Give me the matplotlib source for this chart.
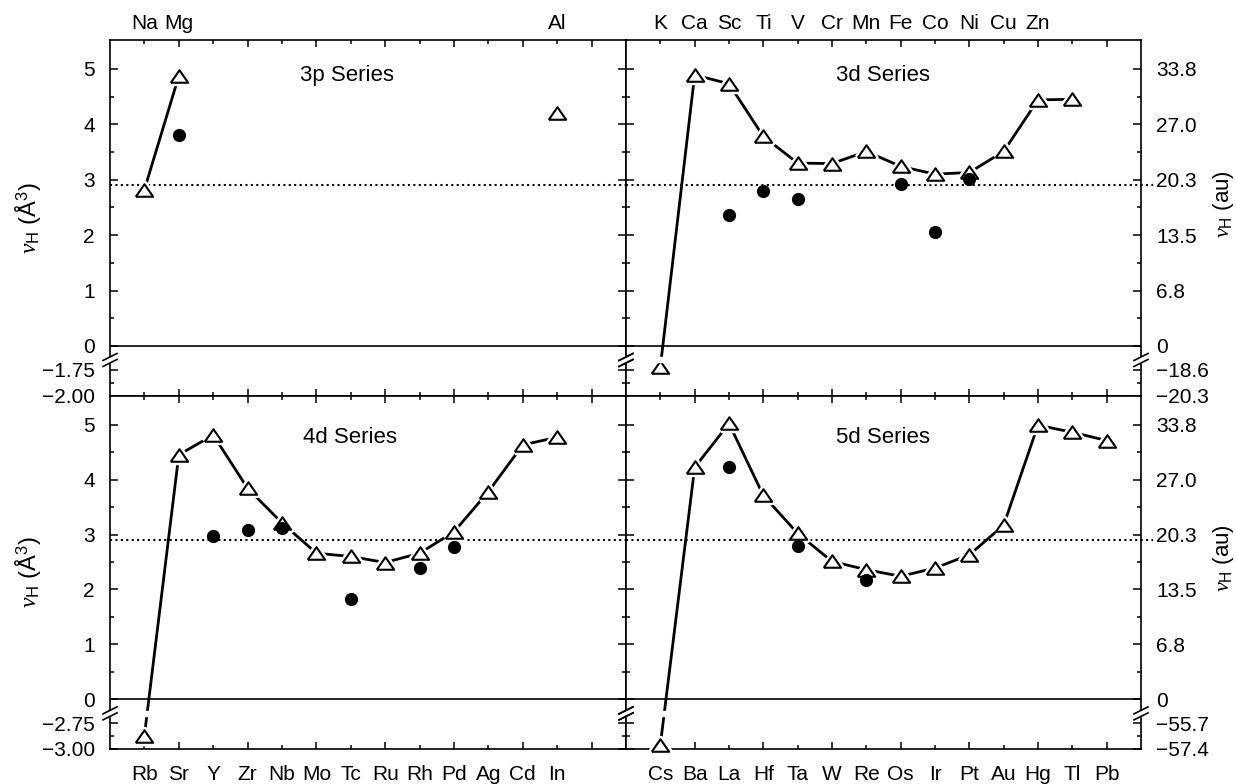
import matplotlib
matplotlib.use("Agg")
import matplotlib.pyplot as plt
from matplotlib.lines import Line2D

plt.rcParams['font.family'] = ['Liberation Sans', 'DejaVu Sans']
plt.rcParams['mathtext.fontset'] = 'custom'
plt.rcParams['mathtext.rm'] = 'Liberation Sans'
plt.rcParams['mathtext.it'] = 'Liberation Serif:italic'
plt.rcParams['mathtext.bf'] = 'Liberation Sans:bold'

# ---------------- data ----------------
p3_labels = ['Na', 'Mg', 'Al']
p3_label_pos = [1, 2, 13]
p3_tri_pos = [1, 2, 13]
p3_tri = [2.82, 4.87, 4.21]
p3_line_n = 2                      # Na-Mg connected, Al isolated
p3_circ_pos = [2]
p3_circ = [3.80]

d3_labels = ['K', 'Ca', 'Sc', 'Ti', 'V', 'Cr', 'Mn', 'Fe', 'Co', 'Ni', 'Cu', 'Zn']
d3_tri_pos = [1, 2, 3, 4, 5, 6, 7, 8, 9, 10, 11, 12, 13]
d3_tri = [-1.72, 4.89, 4.73, 3.78, 3.30, 3.29, 3.51, 3.24, 3.10, 3.13, 3.51, 4.44, 4.45]
d3_circ_pos = [3, 4, 5, 8, 9, 10]
d3_circ = [2.36, 2.80, 2.65, 2.92, 2.05, 3.01]

d4_labels = ['Rb', 'Sr', 'Y', 'Zr', 'Nb', 'Mo', 'Tc', 'Ru', 'Rh', 'Pd', 'Ag', 'Cd', 'In']
d4_tri_pos = [1, 2, 3, 4, 5, 6, 7, 8, 9, 10, 11, 12, 13]
d4_tri = [-2.87, 4.45, 4.81, 3.84, 3.21, 2.66, 2.60, 2.49, 2.66, 3.05, 3.78, 4.63, 4.77]
d4_circ_pos = [3, 4, 5, 7, 9, 10]
d4_circ = [2.98, 3.08, 3.11, 1.82, 2.39, 2.78]

d5_labels = ['Cs', 'Ba', 'La', 'Hf', 'Ta', 'W', 'Re', 'Os', 'Ir', 'Pt', 'Au', 'Hg', 'Tl', 'Pb']
d5_tri_pos = [1, 2, 3, 4, 5, 6, 7, 8, 9, 10, 11, 12, 13, 14]
d5_tri = [-2.96, 4.22, 5.02, 3.71, 3.02, 2.51, 2.36, 2.24, 2.39, 2.63, 3.17, 4.99, 4.86, 4.71]
d5_circ_pos = [3, 5, 7]
d5_circ = [4.22, 2.79, 2.17]

ref_level = 2.9

left_ticks_main = [5, 4, 3, 2, 1, 0]
left_labels_main = ['5', '4', '3', '2', '1', '0']
top_strip_ticks = [-1.75, -2.00]
top_strip_labels = ['\u22121.75', '\u22122.00']
bot_strip_ticks = [-2.75, -3.00]
bot_strip_labels = ['\u22122.75', '\u22123.00']
right_labels_main = ['33.8', '27.0', '20.3', '13.5', '6.8', '0']
top_right_strip_labels = ['\u221218.6', '\u221220.3']
bot_right_strip_labels = ['\u221255.7', '\u221257.4']

series_names = ['3p Series', '3d Series', '4d Series', '5d Series']

# ---------------- broken-axis scale ----------------
YTOP = 5.52
YMIN_V = -0.9025          # strip region below zero
STRIP_K = 1.877           # strip stretch factor


def to_v(v, strip_bottom):
    if v >= 0:
        return v
    return YMIN_V + (v - strip_bottom) * STRIP_K


W, H = 1236, 784
fig = plt.figure(figsize=(W / 100, H / 100), dpi=100)

ax_tl = fig.add_axes([110 / W, 1 - 396 / H, 516 / W, 356 / H])
ax_tr = fig.add_axes([626 / W, 1 - 396 / H, 515 / W, 356 / H])
ax_bl = fig.add_axes([110 / W, 1 - 749 / H, 516 / W, 353 / H])
ax_br = fig.add_axes([626 / W, 1 - 749 / H, 515 / W, 353 / H])

tri_verts = [(-1, -0.72), (1, -0.72), (0, 0.72), (-1, -0.72)]

FS = 15
FS_SERIES = 16
FS_YLAB = 17

panels = [
    (ax_tl, p3_tri_pos, p3_tri, p3_line_n, p3_circ_pos, p3_circ, -2.00, 'left', 'top', series_names[0], (0.46, 0.90)),
    (ax_tr, d3_tri_pos, d3_tri, len(d3_tri), d3_circ_pos, d3_circ, -2.00, 'right', 'top', series_names[1], (0.50, 0.90)),
    (ax_bl, d4_tri_pos, d4_tri, len(d4_tri), d4_circ_pos, d4_circ, -3.00, 'left', 'bottom', series_names[2], (0.465, 0.882)),
    (ax_br, d5_tri_pos, d5_tri, len(d5_tri), d5_circ_pos, d5_circ, -3.00, 'right', 'bottom', series_names[3], (0.50, 0.882)),
]

for ax, tpos, tval, nline, cpos, cval, sb, side, row, name, npos in panels:
    ax.set_xlim(0, 15)
    ax.set_ylim(YMIN_V, YTOP)
    for s in ax.spines.values():
        s.set_linewidth(1.2)

    tv = [to_v(v, sb) for v in tval]
    cv = [to_v(v, sb) for v in cval]

    ax.axhline(0, color='k', lw=1.2, zorder=2)
    xend = 15 if side == 'left' else 15.35
    ax.plot([0, xend], [ref_level, ref_level], color='k', lw=1.5,
            ls=(0, (1, 1.6)), clip_on=False, zorder=2)

    ax.plot(tpos[:nline], tv[:nline], '-', color='k', lw=2.0, zorder=3)
    ax.plot(tpos, tv, ls='none', marker=tri_verts, ms=12.5, mfc='white',
            mec='white', mew=5, zorder=4, clip_on=False)
    ax.plot(tpos, tv, ls='none', marker=tri_verts, ms=12.5, mfc='white',
            mec='k', mew=1.5, zorder=5, clip_on=False)
    ax.plot(cpos, cv, ls='none', marker='o', ms=9.5, mfc='k', mec='k',
            mew=0, zorder=6)

    ax.text(npos[0], npos[1], name, transform=ax.transAxes, ha='center',
            va='center', fontsize=FS_SERIES)

    # x ticks: alternate long/short
    ax.set_xticks(list(range(2, 15, 2)))
    ax.set_xticks(list(range(1, 15, 2)), minor=True)
    ax.tick_params(axis='x', which='both', direction='in', top=True,
                   bottom=True, labelbottom=False, labeltop=False, width=1.1)
    ax.tick_params(axis='x', which='major', length=5)
    ax.tick_params(axis='x', which='minor', length=3)

    strip_ticks = top_strip_ticks if row == 'top' else bot_strip_ticks
    yt = [to_v(v, sb) for v in left_ticks_main + strip_ticks]
    ax.set_yticks(yt)
    ax.set_yticks([0.5, 1.5, 2.5, 3.5, 4.5, to_v(sb + 0.125, sb)], minor=True)
    if side == 'left':
        labs = left_labels_main + (top_strip_labels if row == 'top' else bot_strip_labels)
        ax.set_yticklabels(labs)
        ax.tick_params(axis='y', which='both', direction='in', left=True,
                       right=True, labelleft=True, labelright=False, width=1.1)
    else:
        labs = right_labels_main + (top_right_strip_labels if row == 'top' else bot_right_strip_labels)
        ax.set_yticklabels(labs)
        ax.tick_params(axis='y', which='both', direction='in', left=True,
                       right=True, labelleft=False, labelright=True, width=1.1)
    ax.tick_params(axis='y', which='major', length=5.5, pad=11, labelsize=FS)
    ax.tick_params(axis='y', which='minor', length=3)

    # break band (hides spines and crossing lines)
    px_per = ax.transData.transform((0, 1))[1] - ax.transData.transform((0, 0))[1]
    yc = -14.0 / px_per
    hh = 2.5 / px_per
    ax.axhspan(yc - hh, yc + hh, xmin=-0.02, xmax=1.02, color='white',
               zorder=7, clip_on=False)
    inv = fig.transFigure.inverted()
    for xf in (0, 1):
        xd = ax.transAxes.transform((xf, 0))[0]
        ydc = ax.transData.transform((0, yc))[1]
        for dy in (-3.0, 3.0):
            p1 = inv.transform((xd - 7, ydc + dy - 3.5))
            p2 = inv.transform((xd + 7, ydc + dy + 3.5))
            fig.add_artist(Line2D([p1[0], p2[0]], [p1[1], p2[1]], color='k',
                                  lw=1.2, zorder=10))

# element labels
for ax, labs, pos in [(ax_tl, p3_labels, p3_label_pos),
                      (ax_tr, d3_labels, list(range(1, len(d3_labels) + 1)))]:
    for lab, p in zip(labs, pos):
        ax.text(p, 1.031, lab, transform=ax.get_xaxis_transform(),
                ha='center', va='baseline', fontsize=FS)
for ax, labs in [(ax_bl, d4_labels), (ax_br, d5_labels)]:
    for i, lab in enumerate(labs):
        ax.text(i + 1, -0.087, lab, transform=ax.get_xaxis_transform(),
                ha='center', va='baseline', fontsize=FS)

# axis titles
left_title = r'$v_{\mathrm{H}}$ (Å$^3$)'
right_title = r'$v_{\mathrm{H}}$ (au)'
for yc_px in (218, 572):
    fig.text(28 / W, 1 - yc_px / H, left_title, rotation=90, ha='center',
             va='center', fontsize=FS_YLAB)
    fig.text(1224 / W, 1 - (yc_px - 14) / H, right_title, rotation=90,
             ha='center', va='center', fontsize=FS_YLAB - 1)

fig.savefig('out.png', dpi=100)
